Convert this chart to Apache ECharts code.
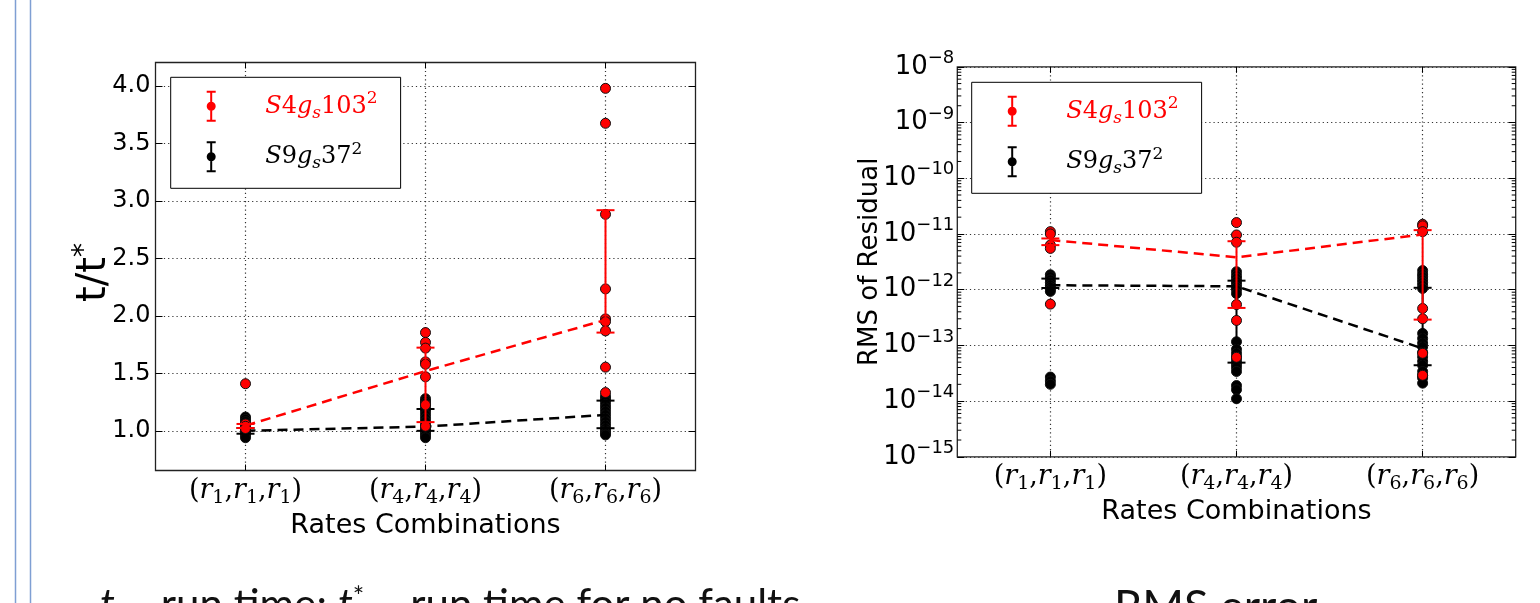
<!DOCTYPE html>
<html><head><meta charset="utf-8">
<script src="https://cdn.jsdelivr.net/npm/echarts@6/dist/echarts.min.js"></script>
<style>html,body{margin:0;padding:0;background:#fff}#c{width:1540px;height:603px}</style>
</head><body><div id="c"></div><script>
// ---------- data ----------
const categorySubs = ['1', '4', '6'];          // (r_i, r_i, r_i)
const xPositions = [1, 2, 3];
const leftYTicks = [1.0, 1.5, 2.0, 2.5, 3.0, 3.5, 4.0];
const rightYTicks = [1e-15, 1e-14, 1e-13, 1e-12, 1e-11, 1e-10, 1e-9, 1e-8];
const redName = 'S4g_s103^2';
const blackName = 'S9g_s37^2';

// Left chart: t / t*
const timeRedPoints = [
  [1.41, 1.06, 1.04, 1.02],
  [1.855, 1.77, 1.72, 1.60, 1.58, 1.47, 1.226, 1.04],
  [3.98, 3.676, 2.884, 2.235, 1.974, 1.95, 1.87, 1.554, 1.333]
];
const timeRedMean = [1.045, 1.52, 1.965];
const timeRedLow = [1.025, 1.076, 1.855];
const timeRedHigh = [1.06, 1.724, 2.92];
const timeBlackPoints = [
  [1.12, 1.10, 1.08, 1.06, 1.04, 1.02, 1.00, 0.98, 0.96, 0.94],
  [1.28, 1.26, 1.24, 1.22, 1.19, 1.17, 1.14, 1.11, 1.08, 1.05, 1.02, 1.00, 0.98, 0.96, 0.94],
  [1.30, 1.28, 1.26, 1.23, 1.20, 1.17, 1.14, 1.11, 1.08, 1.05, 1.02, 1.00, 0.98, 0.965]
];
const timeBlackMean = [1.0, 1.037, 1.139];
const timeBlackLow = [0.975, 1.0, 1.023];
const timeBlackHigh = [1.025, 1.19, 1.263];

// Right chart: RMS of residual
const rmsRedPoints = [
  [1.1e-11, 1.0e-11, 6.3e-12, 5.5e-12, 5.5e-13],
  [1.6e-11, 9.6e-12, 7.1e-12, 5.4e-13, 2.8e-13, 6.1e-14],
  [1.49e-11, 1.4e-11, 1.1e-11, 4.6e-13, 3.0e-13, 7.2e-14, 2.9e-14]
];
const rmsRedMean = [7.8e-12, 3.8e-12, 9.8e-12];
const rmsRedLow = [6.3e-12, 4.7e-13, 2.9e-13];
const rmsRedHigh = [8.3e-12, 7.4e-12, 1.17e-11];
const rmsBlackPoints = [
  [1.85e-12, 1.7e-12, 1.5e-12, 1.35e-12, 1.2e-12, 1.1e-12, 1.0e-12, 9.3e-13, 2.7e-14, 2.3e-14, 2.0e-14],
  [2.1e-12, 1.8e-12, 1.6e-12, 1.4e-12, 1.25e-12, 1.1e-12, 1.0e-12, 8.5e-13, 1.16e-13, 8.5e-14, 7.2e-14, 6.2e-14, 5.3e-14, 4.6e-14, 4.0e-14, 3.4e-14, 1.9e-14, 1.6e-14, 1.1e-14],
  [2.2e-12, 1.9e-12, 1.7e-12, 1.5e-12, 1.35e-12, 1.2e-12, 1.05e-12, 1.64e-13, 1.33e-13, 1.1e-13, 9.4e-14, 7.5e-14, 6.2e-14, 5.2e-14, 4.4e-14, 3.4e-14, 2.9e-14, 2.6e-14, 2.1e-14]
];
const rmsBlackMean = [1.2e-12, 1.15e-12, 8.8e-14];
const rmsBlackLow = [1.07e-12, 4.9e-14, 4.4e-14];
const rmsBlackHigh = [1.58e-12, 1.45e-12, 1.08e-12];

// minor tick values of the log axis (2..9 x 10^k)
const rightMinorTicks = [];
for (let k = -15; k < -8; k++) for (let m = 2; m <= 9; m++) rightMinorTicks.push(m * Math.pow(10, k));

// ---------- helpers ----------
const RED = '#ff0000', BLACK = '#000000';
const toPoints = (arr) => arr.flatMap((vals, i) => vals.map(v => [xPositions[i], v]));
const toPairs = (arr) => arr.map((v, i) => [xPositions[i], v]);
const toBars = (lo, hi) => lo.map((v, i) => [xPositions[i], v, hi[i]]);

function errRender(color) {
  return function (params, api) {
    const x = api.value(0);
    const a = api.coord([x, api.value(1)]);
    const b = api.coord([x, api.value(2)]);
    const h = 9;
    const st = { stroke: color, lineWidth: 2 };
    return { type: 'group', children: [
      { type: 'line', shape: { x1: a[0], y1: a[1], x2: b[0], y2: b[1] }, style: st },
      { type: 'line', shape: { x1: a[0] - h, y1: a[1], x2: a[0] + h, y2: a[1] }, style: st },
      { type: 'line', shape: { x1: b[0] - h, y1: b[1], x2: b[0] + h, y2: b[1] }, style: st }
    ]};
  };
}
function minorRender(params, api) {
  const cs = params.coordSys;
  const p = api.coord([1, api.value(0)]);
  const st = { stroke: '#000', lineWidth: 1 };
  return { type: 'group', children: [
    { type: 'line', shape: { x1: cs.x, y1: p[1], x2: cs.x + 4, y2: p[1] }, style: st },
    { type: 'line', shape: { x1: cs.x + cs.width, y1: p[1], x2: cs.x + cs.width - 4, y2: p[1] }, style: st }
  ]};
}

const SERIF = 'DejaVu Serif', SANS = 'DejaVu Sans';
const mathRich = {
  p: { fontFamily: SERIF, fontSize: 27, color: '#000' },
  r: { fontFamily: SERIF, fontSize: 27, fontStyle: 'italic', color: '#000' },
  s: { fontFamily: SERIF, fontSize: 19, color: '#000', padding: [15, 0, 0, 0] }
};
function catLabel(v) {
  const i = Math.round(v) - 1;
  const s = categorySubs[i];
  if (s === undefined) return '';
  return `{p|(}{r|r}{s|${s}}{p|,}{r|r}{s|${s}}{p|,}{r|r}{s|${s}}{p|)}`;
}
const logRich = {
  b: { fontFamily: SANS, fontSize: 26, color: '#000' },
  e: { fontFamily: SANS, fontSize: 18, color: '#000', padding: [0, 0, 17, 0] }
};
function logLabel(v) {
  const e = Math.round(Math.log10(v));
  return `{b|10}{e|${e < 0 ? '\u2212' + (-e) : e}}`;
}
const legendRich = {
  g: { width: 44 },
  iR: { fontFamily: SERIF, fontSize: 24, fontStyle: 'italic', color: RED },
  uR: { fontFamily: SERIF, fontSize: 24, color: RED },
  sR: { fontFamily: SERIF, fontSize: 17, fontStyle: 'italic', color: RED, padding: [14, 0, 0, 0] },
  pR: { fontFamily: SERIF, fontSize: 17, color: RED, padding: [0, 0, 15, 0] },
  iK: { fontFamily: SERIF, fontSize: 24, fontStyle: 'italic', color: BLACK },
  uK: { fontFamily: SERIF, fontSize: 24, color: BLACK },
  sK: { fontFamily: SERIF, fontSize: 17, fontStyle: 'italic', color: BLACK, padding: [14, 0, 0, 0] },
  pK: { fontFamily: SERIF, fontSize: 17, color: BLACK, padding: [0, 0, 15, 0] }
};
function legendLabel(name) {
  return name === redName
    ? '{g| }{iR|S}{uR|4}{iR|g}{sR|s}{uR|103}{pR|2}'
    : '{g| }{iK|S}{uK|9}{iK|g}{sK|s}{uK|37}{pK|2}';
}
const errIcon = 'path://M0.5,0H9.5V2H0.5Z M4,0H6V31H4Z M0.5,29H9.5V31H0.5Z M0.5,15.5A4.5,4.5,0,1,1,9.5,15.5A4.5,4.5,0,1,1,0.5,15.5Z';

const gridLine = { show: true, lineStyle: { color: '#333', type: [1.2, 3], width: 1.2 } };
const noLine = { show: false };

function legendFor(left, top) {
  return {
    left, top, orient: 'vertical',
    data: [redName, blackName],
    icon: errIcon, itemWidth: 10, itemHeight: 31, itemGap: 19,
    padding: [13, 23, 16, 36],
    borderColor: '#000', borderWidth: 1, backgroundColor: '#fff',
    itemStyle: { borderWidth: 0 },
    formatter: legendLabel,
    textStyle: { rich: legendRich },
    selectedMode: false
  };
}

function groupSeries(gi, pts, mean, lo, hi, color, name, zb) {
  return [
    { name, type: 'scatter', xAxisIndex: gi * 2, yAxisIndex: gi * 2, data: toPoints(pts),
      symbol: 'circle', symbolSize: 10, z: zb + 1,
      itemStyle: { color, borderColor: '#111', borderWidth: 1, opacity: 1 }, emphasis: { disabled: true } },
    { name, type: 'custom', xAxisIndex: gi * 2, yAxisIndex: gi * 2, data: toBars(lo, hi),
      encode: { x: 0, y: [1, 2] }, renderItem: errRender(color), z: zb + 2, silent: true },
    { name, type: 'line', xAxisIndex: gi * 2, yAxisIndex: gi * 2, data: toPairs(mean),
      symbol: 'none', z: zb + 3, silent: true,
      lineStyle: { color, width: 2.5, type: [10, 6] }, itemStyle: { color } }
  ];
}

const option = {
  animation: false,
  backgroundColor: '#fff',
  grid: [
    { left: 155.5, top: 62.5, width: 540, height: 408, show: true, borderColor: '#222', borderWidth: 1.3, backgroundColor: '#fff' },
    { left: 957.3, top: 66.8, width: 558.4, height: 390, show: true, borderColor: '#222', borderWidth: 1.3, backgroundColor: '#fff' }
  ],
  legend: [legendFor(170.7, 77.3), legendFor(971.7, 82.3)],
  xAxis: [
    { type: 'value', gridIndex: 0, min: 0.5, max: 3.5, position: 'bottom',
      axisLine: noLine, splitLine: gridLine,
      axisTick: { show: true, inside: true, length: 6, customValues: xPositions, lineStyle: { color: '#000' } },
      axisLabel: { customValues: xPositions, formatter: catLabel, rich: mathRich, margin: 3 },
      name: 'Rates Combinations', nameLocation: 'middle', nameGap: 40,
      nameTextStyle: { fontFamily: SANS, fontSize: 27, color: '#000' } },
    { type: 'value', gridIndex: 0, min: 0.5, max: 3.5, position: 'top',
      axisLine: noLine, splitLine: noLine, axisLabel: { show: false },
      axisTick: { show: true, inside: true, length: 6, customValues: xPositions, lineStyle: { color: '#000' } } },
    { type: 'value', gridIndex: 1, min: 0.5, max: 3.5, position: 'bottom',
      axisLine: noLine, splitLine: gridLine,
      axisTick: { show: true, inside: true, length: 6, customValues: xPositions, lineStyle: { color: '#000' } },
      axisLabel: { customValues: xPositions, formatter: catLabel, rich: mathRich, margin: 3 },
      name: 'Rates Combinations', nameLocation: 'middle', nameGap: 40,
      nameTextStyle: { fontFamily: SANS, fontSize: 27, color: '#000' } },
    { type: 'value', gridIndex: 1, min: 0.5, max: 3.5, position: 'top',
      axisLine: noLine, splitLine: noLine, axisLabel: { show: false },
      axisTick: { show: true, inside: true, length: 6, customValues: xPositions, lineStyle: { color: '#000' } } }
  ],
  yAxis: [
    { type: 'value', gridIndex: 0, min: 0.655, max: 4.205, position: 'left',
      axisLine: noLine, splitLine: gridLine,
      axisTick: { show: true, inside: true, length: 7, customValues: leftYTicks, lineStyle: { color: '#000' } },
      axisLabel: { customValues: leftYTicks, formatter: v => v.toFixed(1), fontFamily: SANS, fontSize: 24, color: '#000', margin: 5 },
      name: '{a|t/t}{s|*}', nameLocation: 'middle', nameGap: 37, nameMoveOverlap: false,
      nameTextStyle: { padding: [0, 12, 0, 0], rich: { a: { fontFamily: SANS, fontSize: 40, color: '#000' }, s: { fontFamily: SANS, fontSize: 28, color: '#000', padding: [0, 0, 20, 0] } } } },
    { type: 'value', gridIndex: 0, min: 0.655, max: 4.205, position: 'right',
      axisLine: noLine, splitLine: noLine, axisLabel: { show: false },
      axisTick: { show: true, inside: true, length: 7, customValues: leftYTicks, lineStyle: { color: '#000' } } },
    { type: 'log', logBase: 10, gridIndex: 1, min: 1e-15, max: 1e-8, position: 'left',
      axisLine: noLine, splitLine: gridLine,
      axisTick: { show: true, inside: true, length: 7, customValues: rightYTicks, lineStyle: { color: '#000' } },
      axisLabel: { customValues: rightYTicks, formatter: logLabel, rich: logRich, margin: 3 },
      name: 'RMS of Residual', nameLocation: 'middle', nameGap: 74, nameMoveOverlap: false,
      nameTextStyle: { fontFamily: SANS, fontSize: 26, color: '#000' } },
    { type: 'log', logBase: 10, gridIndex: 1, min: 1e-15, max: 1e-8, position: 'right',
      axisLine: noLine, splitLine: noLine, axisLabel: { show: false },
      axisTick: { show: true, inside: true, length: 7, customValues: rightYTicks, lineStyle: { color: '#000' } } }
  ],
  graphic: [
    { type: 'line', shape: { x1: 15.5, y1: 0, x2: 15.5, y2: 603 }, style: { stroke: '#7f9fd3', lineWidth: 1.5 } },
    { type: 'line', shape: { x1: 30.5, y1: 0, x2: 30.5, y2: 603 }, style: { stroke: '#7f9fd3', lineWidth: 1.5 } },
    { type: 'text', left: 100, top: 584, style: {
        text: '{i|t}{n| \u2013 run time; }{i|t}{p|*}{n| \u2013 run time for no faults}',
        rich: { i: { fontFamily: 'Lato', fontStyle: 'italic', fontSize: 42, fill: '#111' },
                n: { fontFamily: 'Lato', fontSize: 42, fill: '#111' },
                p: { fontFamily: 'Lato', fontSize: 27, fill: '#111', padding: [0, 0, 15, 0] } } } },
    { type: 'text', left: 1114, top: 585, style: { text: 'RMS error', fontFamily: 'Lato', fontSize: 45, fill: '#111' } }
  ],
  series: [
    ...groupSeries(0, timeBlackPoints, timeBlackMean, timeBlackLow, timeBlackHigh, BLACK, blackName, 2),
    ...groupSeries(0, timeRedPoints, timeRedMean, timeRedLow, timeRedHigh, RED, redName, 10),
    ...groupSeries(1, rmsBlackPoints, rmsBlackMean, rmsBlackLow, rmsBlackHigh, BLACK, blackName, 2),
    ...groupSeries(1, rmsRedPoints, rmsRedMean, rmsRedLow, rmsRedHigh, RED, redName, 10),
    { type: 'custom', xAxisIndex: 2, yAxisIndex: 2, data: rightMinorTicks.map(v => [v]),
      encode: { y: 0 }, renderItem: minorRender, silent: true, z: 1, clip: false }
  ]
};
const chart = echarts.init(document.getElementById('c'), null, { renderer: 'canvas' });
chart.setOption(option);
</script></body></html>
